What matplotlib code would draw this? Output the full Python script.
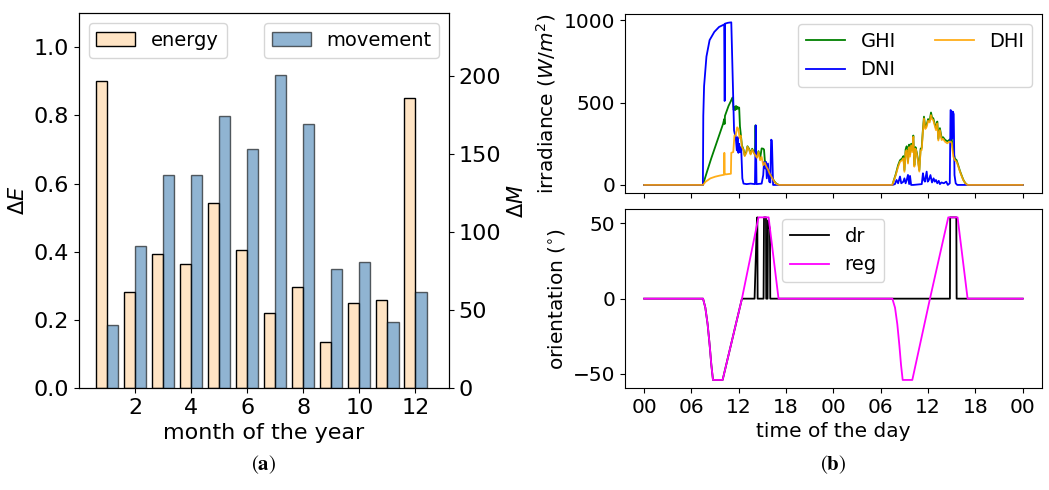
import numpy as np
import matplotlib
matplotlib.use('Agg')
import matplotlib.pyplot as plt

plt.rcParams['font.size'] = 14.5

# ---- (a) monthly bars ----
months = np.arange(1, 13)
energy = [0.902, 0.283, 0.392, 0.364, 0.544, 0.405, 0.221, 0.296, 0.134, 0.251, 0.258, 0.851]
movement = [40.7, 90.8, 136.6, 136.2, 174.3, 153.1, 200.6, 169.2, 76.1, 80.6, 42.4, 61.7]

# ---- (b) irradiance over two days (hours since first midnight) ----
ghi_t = [0, 7.45, 8.0, 8.5, 9.0, 9.5, 10.0, 10.15, 10.2, 10.25, 10.7, 11.0, 11.2, 11.35,
         11.45, 11.55, 11.65, 11.75, 11.85, 11.95, 12.05, 12.15, 12.25, 12.4, 12.6, 12.75,
         12.95, 13.1, 13.3, 13.5, 13.7, 13.9, 14.05, 14.12, 14.2, 14.3, 14.5, 14.7, 14.9,
         15.1, 15.2, 15.3, 15.5, 15.7, 15.9, 16.2, 16.5, 16.8, 17.1,
         31.47, 31.9, 32.2, 32.44, 32.7, 32.87, 33.0, 33.15, 33.29, 33.45, 33.6, 33.71,
         33.85, 34.0, 34.13, 34.26, 34.4, 34.55, 34.7, 34.89, 35.05, 35.19, 35.35, 35.48,
         35.65, 35.82, 36.0, 36.2, 36.37, 36.5, 36.66, 36.85, 37.0, 37.17, 37.3, 37.5,
         37.72, 37.9, 38.14, 38.43, 38.6, 38.86, 39.0, 39.2, 39.4, 39.62, 39.85, 40.04,
         40.25, 40.46, 40.7, 40.97, 48]
ghi = [0, 0, 85, 160, 230, 300, 370, 400, 370, 420, 480, 510, 531, 455,
       475, 455, 480, 460, 475, 465, 470, 355, 310, 240, 215, 180,
       200, 235, 220, 190, 220, 200, 185, 362, 190, 170, 205, 160, 222,
       220, 215, 150, 120, 100, 75, 48, 22, 6, 0,
       0, 65, 120, 150, 160, 175, 90, 215, 235, 140, 245, 185,
       250, 210, 300, 120, 230, 200, 160, 90, 220, 225, 340, 415,
       350, 365, 400, 390, 440, 410, 405, 370, 345, 385, 280, 345,
       285, 290, 275, 265, 270, 280, 275, 205, 160, 150, 115, 85,
       58, 32, 12, 0, 0]

dni_t = [0, 7.45, 7.5, 7.6, 7.9, 8.3, 8.9, 9.5, 10.15, 10.2, 10.23, 10.26, 10.6, 11.05,
         11.4, 11.5, 11.6, 11.75, 11.85, 11.95, 12.05, 12.15, 12.3, 12.45, 12.6, 13.0,
         13.5, 14.05, 14.15, 14.25, 14.9, 15.1, 15.2, 15.35, 15.45, 15.55, 15.7, 15.85,
         16.0, 16.1, 16.2, 16.35,
         31.47, 31.8, 32.0, 32.2, 32.44, 32.6, 32.87, 33.0, 33.15, 33.29, 33.45, 33.6,
         33.71, 33.85, 34.13, 35.2, 35.35, 35.48, 35.6, 35.82, 35.95, 36.1, 36.3, 36.5,
         36.7, 36.85, 37.0, 37.17, 37.35, 37.5, 37.7, 38.0, 38.3, 38.5, 38.75, 38.85,
         38.95, 39.05, 39.15, 39.25, 39.35, 39.5, 39.7, 48]
dni = [0, 0, 420, 600, 780, 880, 930, 960, 975, 510, 515, 980, 985, 988,
       330, 310, 300, 210, 290, 195, 250, 200, 230, 40, 8, 5,
       8, 5, 362, 5, 8, 60, 140, 100, 140, 40, 130, 20,
       15, 275, 270, 0,
       0, 5, 30, 10, 51, 10, 20, 40, 10, 30, 61, 5,
       55, 0, 0, 5, 71, 30, 20, 81, 20, 30, 60, 15,
       40, 20, 30, 10, 25, 5, 15, 10, 20, 0, 10, 455,
       450, 280, 445, 430, 60, 10, 0, 0]

dhi_t = [0, 7.45, 7.8, 8.4, 9.0, 9.6, 10.15, 10.17, 10.2, 10.3, 11.0, 11.05, 11.3, 11.45,
         11.6, 11.8, 11.95, 12.1, 12.25, 12.4, 12.6, 12.75, 12.95, 13.1, 13.3, 13.5,
         13.7, 13.9, 14.1, 14.3, 14.5, 14.7, 14.9, 15.1, 15.3, 15.5, 15.7, 15.9, 16.2,
         16.5, 16.8, 17.1,
         31.47, 31.9, 32.2, 32.44, 32.7, 32.87, 33.0, 33.15, 33.29, 33.45, 33.6, 33.71,
         33.85, 34.0, 34.13, 34.26, 34.4, 34.55, 34.7, 34.89, 35.05, 35.19, 35.35, 35.48,
         35.65, 35.82, 36.0, 36.2, 36.37, 36.5, 36.66, 36.85, 37.0, 37.17, 37.3, 37.5,
         37.72, 37.9, 38.14, 38.43, 38.6, 38.86, 39.0, 39.2, 39.4, 39.62, 39.85, 40.04,
         40.25, 40.46, 40.7, 40.97, 48]
dhi = [0, 0, 20, 40, 50, 57, 62, 195, 70, 64, 68, 195, 200, 300,
       300, 350, 340, 285, 300, 230, 212, 175, 195, 232, 215, 185,
       215, 195, 180, 165, 200, 150, 170, 120, 135, 110, 95, 70, 45,
       20, 5, 0,
       0, 60, 110, 141, 150, 162, 80, 200, 212, 130, 230, 172,
       240, 200, 293, 111, 220, 192, 150, 81, 210, 212, 330, 404,
       340, 353, 390, 380, 424, 400, 394, 360, 333, 374, 270, 333,
       273, 280, 263, 253, 260, 263, 255, 172, 150, 141, 110, 81,
       55, 30, 12, 0, 0]

# ---- (b) orientation ----
reg_t = [0, 7.47, 7.76, 8.05, 8.31, 8.52, 8.73, 9.95, 12.4, 14.5, 15.78, 17.04,
         31.47, 31.81, 32.1, 32.36, 32.57, 32.78, 34.0, 36.24, 38.56, 39.74, 41.01, 48]
reg = [0, 0, -6, -17, -31, -44, -54, -54, 0, 54, 54, 0,
       0, -6, -17, -31, -44, -54, -54, 0, 54, 54, 0, 0]

dr_t = [0, 7.47, 7.76, 8.05, 8.31, 8.52, 8.73, 9.95, 12.4, 14.0, 14.3, 14.35, 14.39,
        15.14, 15.2, 15.45, 15.48, 15.65, 15.7, 15.95, 15.99, 38.77, 38.8, 39.58, 39.62, 48]
dr = [0, 0, -6, -17, -31, -44, -54, -54, 0, 0, 52, 54, 0,
      0, 54, 54, 0, 0, 52, 46, 0, 0, 54, 54, 0, 0]

hour_ticks = np.arange(0, 49, 6)
hour_labels = ['00', '06', '12', '18', '00', '06', '12', '18', '00']

fig = plt.figure(figsize=(10.49, 4.9), dpi=100)

fs_a = 16
ax = fig.add_axes([0.0753, 0.208, 0.3527, 0.765])
ax2 = ax.twinx()
ax.bar(months - 0.2, energy, width=0.4, color='bisque', edgecolor='black', label='energy')
ax2.bar(months + 0.2, movement, width=0.4, color='steelblue', alpha=0.6,
        edgecolor='black', label='movement')
ax.set_ylim(0, 1.1)
ax2.set_ylim(0, 240)
ax.set_xlim(0, 13.2)
ax.set_xticks(range(2, 13, 2))
ax.set_yticks(np.arange(0, 1.01, 0.2))
ax2.set_yticks(range(0, 201, 50))
ax.tick_params(labelsize=fs_a)
ax2.tick_params(labelsize=fs_a)
ax.set_xlabel('month of the year', fontsize=fs_a)
ax.set_ylabel(r'$\Delta E$', fontsize=fs_a - 1)
ax2.set_ylabel(r'$\Delta M$', fontsize=fs_a - 1)
ax.legend(loc='upper left', fontsize=14)
ax2.legend(loc='upper right', fontsize=14)

axt = fig.add_axes([0.596, 0.606, 0.397, 0.365])
axb = fig.add_axes([0.596, 0.208, 0.397, 0.365], sharex=axt)

axt.plot(ghi_t, ghi, color='green', lw=1.3, label='GHI')
axt.plot(dni_t, dni, color='blue', lw=1.3, label='DNI')
axt.plot(dhi_t, dhi, color='orange', lw=1.3, label='DHI', alpha=0.9)
axt.set_ylabel(r'irradiance ($W/m^2$)')
axt.set_yticks([0, 500, 1000])
axt.legend(ncol=2, loc='upper right', fontsize=14)
plt.setp(axt.get_xticklabels(), visible=False)

axb.plot(dr_t, dr, color='black', lw=1.3, label='dr')
axb.plot(reg_t, reg, color='magenta', lw=1.3, label='reg')
axb.set_ylabel(r'orientation ($^{\circ}$)')
axb.set_xlabel('time of the day')
axb.set_yticks([-50, 0, 50])
axb.set_xticks(hour_ticks)
axb.set_xticklabels(hour_labels)
axb.legend(loc='upper center', fontsize=14)

fig.text(0.251, 0.052, r'$(\mathbf{a})$', ha='center', va='center', fontsize=15,
         math_fontfamily='stix')
fig.text(0.794, 0.052, r'$(\mathbf{b})$', ha='center', va='center', fontsize=15,
         math_fontfamily='stix')

fig.savefig('out.png', dpi=100)
